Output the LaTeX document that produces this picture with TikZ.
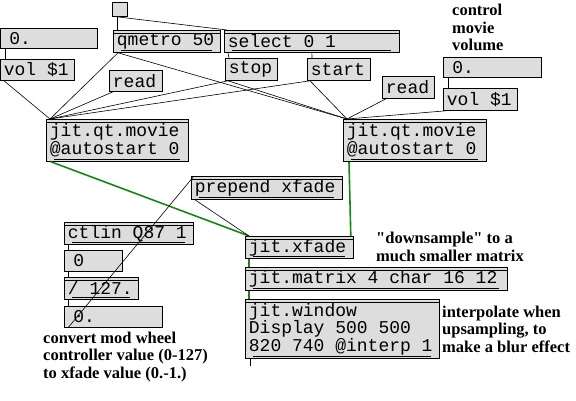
\documentclass[tikz,border=0pt]{standalone}
\usepackage{fontspec}
\setmainfont{Liberation Serif}
\newfontfamily\maxfont{Liberation Mono}[WordSpace={1,0,0}]
\definecolor{boxgray}{RGB}{221,221,221}
\definecolor{cordgreen}{RGB}{20,135,20}
\tikzset{
  cord/.style={line width=0.6pt},
  mcord/.style={line width=1.6pt, draw=cordgreen},
  pbox/.style={draw, fill=boxgray, line width=0.8pt, anchor=north west,
    inner ysep=0pt, inner xsep=3.5pt, align=flush left,
    font=\maxfont\fontsize{18}{17.5}\selectfont,
    execute at begin node={\spaceskip=\fontdimen2\font\relax}},
  msg/.style={pbox},
  num/.style={pbox, inner xsep=9pt},
  obj/.style={pbox, path picture={
    \draw[line width=0.6pt] ([yshift=-2.5pt]path picture bounding box.north west) -- ([yshift=-2.5pt]path picture bounding box.north east);
    \draw[line width=0.6pt] ([yshift=2.5pt]path picture bounding box.south west) -- ([yshift=2.5pt]path picture bounding box.south east);
    \fill (path picture bounding box.north west) rectangle ([xshift=8pt,yshift=-2.5pt]path picture bounding box.north west);
    \fill (path picture bounding box.north east) rectangle ([xshift=-8pt,yshift=-2.5pt]path picture bounding box.north east);
    \fill (path picture bounding box.south west) rectangle ([xshift=8pt,yshift=2.5pt]path picture bounding box.south west);
    \fill (path picture bounding box.south east) rectangle ([xshift=-8pt,yshift=2.5pt]path picture bounding box.south east);
  }},
  note/.style={anchor=base west, inner sep=0pt, align=left,
    font=\bfseries\fontsize{16.5}{17.5}\selectfont},
}
\begin{document}
\begin{tikzpicture}[x=1pt, y=-1pt]
  \useasboundingbox (0,0) rectangle (576,401);
  % top row
  \node[draw, fill=boxgray, line width=0.8pt, anchor=north west, inner sep=0pt,
    minimum width=15, minimum height=14] (togg) at (112,2) {};
  \node[num, text width=79, minimum height=20] (numL) at (0,28) {0.};
  \node[msg, text width=67, minimum height=21] (volL) at (0,59) {vol \$1};
  \node[obj, text width=100, minimum height=22] (qmetro) at (113,30) {qmetro 50};
  \node[obj, text width=168, minimum height=22] (sel) at (224,30) {select 0 1};
  \node[msg, text width=45, minimum height=22] (stop) at (225,58) {stop};
  \node[msg, text width=56, minimum height=22] (start) at (307,58) {start};
  \node[msg, text width=46, minimum height=21] (readL) at (109,70) {read};
  \node[msg, text width=45, minimum height=22] (readR) at (382,76) {read};
  \node[num, text width=80, minimum height=20] (numR) at (443,57) {0.};
  \node[msg, text width=67, minimum height=22] (volR) at (443,88) {vol \$1};
  % movies
  \node[obj, text width=135, minimum height=42] (movieL) at (46,119) {jit.qt.movie\\@autostart 0};
  \node[obj, text width=136, minimum height=42] (movieR) at (343,119) {jit.qt.movie\\@autostart 0};
  % mod wheel chain
  \node[obj, text width=144, minimum height=23] (prep) at (191,176) {prepend xfade};
  \node[obj, text width=122, minimum height=22] (ctlin) at (64,222) {ctlin Q87 1};
  \node[num, text width=40, minimum height=21] (numA) at (64,250) {0};
  \node[obj, text width=67, minimum height=22] (div) at (64,277) {/ 127.};
  \node[num, text width=80, minimum height=21] (numB) at (64,306) {0.};
  % video chain
  \node[obj, text width=101, minimum height=22] (xfade) at (245,236) {jit.xfade};
  \node[obj, text width=255, minimum height=23] (matrix) at (245,267) {jit.matrix 4 char 16 12};
  \node[obj, text width=187, minimum height=59] (window) at (245,299) {jit.window\\Display 500 500\\820 740 @interp 1};
  \coordinate (winout) at (250,366);
  % comments (base = last line)
  \node[note] (volnote) at (452,51) {control\\movie\\volume};
  \node[note] (downnote) at (376,261) {\textquotedbl downsample\textquotedbl{} to a\\much smaller matrix};
  \node[note] (interpnote) at (442,352) {interpolate when\\upsampling, to\\make a blur effect};
  \node[note] (modnote) at (43,378) {convert mod wheel\\controller value (0-127)\\to xfade value (0.-1.)};
  % cords
  \draw[cord] ([xshift=5pt]togg.south west) -- ([xshift=4pt]qmetro.north west);
  \draw[cord] ([xshift=5pt]togg.south west) -- ([xshift=3pt]sel.north west);
  \draw[cord] ([xshift=5pt]numL.south west) -- ([xshift=5pt]volL.north west);
  \draw[cord] ([xshift=4pt]volL.south west) -- ([xshift=4pt]movieL.north west);
  \draw[cord] ([xshift=5pt]qmetro.south west) -- ([xshift=4pt]movieL.north west);
  \draw[cord] ([xshift=5pt]qmetro.south west) -- ([xshift=4pt]movieR.north west);
  \draw[cord] ([xshift=4pt]sel.south west) -- ([xshift=4pt]stop.north west);
  \draw[cord] (sel.south) -- ([xshift=5pt]start.north west);
  \draw[cord] ([xshift=3pt]stop.south west) -- ([xshift=4pt]movieL.north west);
  \draw[cord] ([xshift=3pt]stop.south west) -- ([xshift=4pt]movieR.north west);
  \draw[cord] ([xshift=3pt]start.south west) -- ([xshift=4pt]movieL.north west);
  \draw[cord] ([xshift=3pt]start.south west) -- ([xshift=4pt]movieR.north west);
  \draw[cord] ([xshift=4pt]readL.south west) -- ([xshift=4pt]movieL.north west);
  \draw[cord] ([xshift=4pt]readR.south west) -- ([xshift=4pt]movieR.north west);
  \draw[cord] ([xshift=5pt]numR.south west) -- ([xshift=5pt]volR.north west);
  \draw[cord] ([xshift=3pt]volR.south west) -- ([xshift=4pt]movieR.north west);
  \draw[mcord] ([xshift=5pt]movieL.south west) -- ([xshift=4pt]xfade.north west);
  \draw[mcord] ([xshift=6pt]movieR.south west) -- ([xshift=-3pt]xfade.north east);
  \draw[cord] ([xshift=4pt]ctlin.south west) -- ([xshift=4pt]numA.north west);
  \draw[cord] ([xshift=4pt]numA.south west) -- ([xshift=4pt]div.north west);
  \draw[cord] ([xshift=4pt]div.south west) -- ([xshift=4pt]numB.north west);
  \draw[cord] ([xshift=4pt]numB.south west) -- ([xshift=3pt]prep.north west);
  \draw[cord] ([xshift=4pt]prep.south west) -- ([xshift=4pt]xfade.north west);
  \draw[mcord] ([xshift=4pt]xfade.south west) -- ([xshift=4pt]matrix.north west);
  \draw[mcord] ([xshift=4pt]matrix.south west) -- ([xshift=4pt]window.north west);
  \draw[cord] ([xshift=5pt]window.south west) -- (winout);
\end{tikzpicture}
\end{document}
